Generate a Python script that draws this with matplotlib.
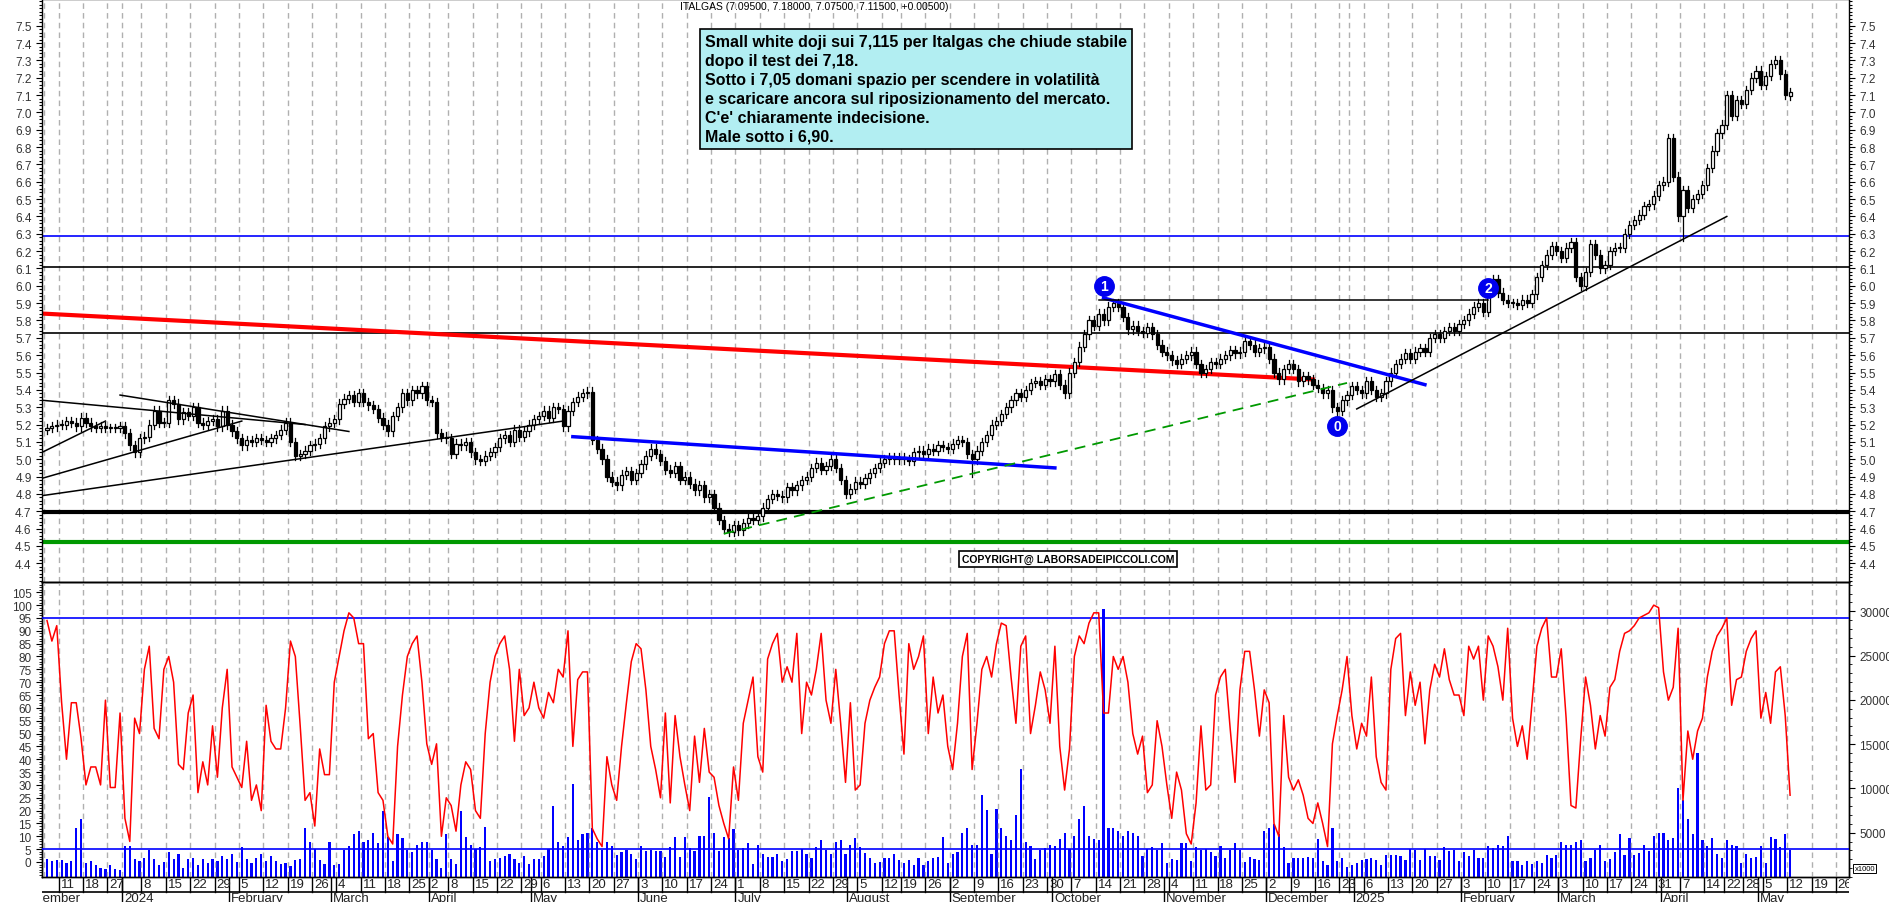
import numpy as np
import pandas as pd
import matplotlib
matplotlib.use("Agg")
import matplotlib.pyplot as plt
from matplotlib.patches import Rectangle

# ---------------- DATA ----------------
start_date = "2023-12-06"
end_date = "2025-05-30"
last_data_date = "2025-05-12"
holidays = ["2023-12-25", "2023-12-26", "2024-01-01", "2024-03-29", "2024-04-01",
            "2024-05-01", "2024-08-15", "2024-12-24", "2024-12-25", "2024-12-26",
            "2024-12-31", "2025-01-01", "2025-04-18", "2025-04-21", "2025-05-01"]

closes = [
    5.18, 5.19, 5.20,
    5.20, 5.22, 5.21, 5.19, 5.24,
    5.21, 5.19, 5.18, 5.19, 5.18,
    5.18, 5.18, 5.19,
    5.15, 5.08, 5.04, 5.12,
    5.13, 5.20, 5.28, 5.21, 5.21,
    5.34, 5.32, 5.23, 5.27, 5.25,
    5.30, 5.21, 5.20, 5.22, 5.23,
    5.19, 5.28, 5.20, 5.16, 5.12,
    5.08, 5.11, 5.10, 5.12, 5.11,
    5.10, 5.12, 5.14, 5.17, 5.21,
    5.10, 5.02, 5.03, 5.05, 5.08,
    5.09, 5.12, 5.19, 5.21, 5.23,
    5.32, 5.35, 5.37, 5.33, 5.38,
    5.33, 5.31, 5.29, 5.24, 5.20,
    5.16, 5.25, 5.30, 5.38, 5.34,
    5.40, 5.38, 5.42, 5.34,
    5.33, 5.15, 5.13, 5.12,
    5.03, 5.09, 5.08, 5.10, 5.04,
    5.00, 4.99, 5.02, 5.04, 5.07,
    5.12, 5.14, 5.10, 5.17, 5.13,
    5.16, 5.20, 5.23, 5.25,
    5.28, 5.24, 5.30, 5.29, 5.19,
    5.28, 5.33, 5.36, 5.38, 5.39,
    5.11, 5.06, 5.00, 4.90, 4.87,
    4.85, 4.91, 4.93, 4.88, 4.92,
    4.97, 5.02, 5.06, 5.03, 4.99,
    4.94, 4.92, 4.96, 4.88, 4.90,
    4.86, 4.82, 4.85, 4.78, 4.80,
    4.72, 4.65, 4.60, 4.58, 4.62,
    4.59, 4.63, 4.66, 4.65, 4.67,
    4.72, 4.77, 4.80, 4.79, 4.78,
    4.84, 4.82, 4.85, 4.88, 4.90,
    4.95, 4.98, 4.94, 4.96, 5.00,
    4.95, 4.88, 4.80, 4.83, 4.87,
    4.86, 4.89, 4.92, 4.95, 4.98,
    5.00, 5.01, 5.00, 5.01,
    5.00, 4.99, 5.04, 5.05, 5.03,
    5.06, 5.05, 5.08, 5.07, 5.06,
    5.09, 5.11, 5.10, 5.03, 5.00,
    5.05, 5.10, 5.14, 5.20, 5.22,
    5.26, 5.30, 5.34, 5.38, 5.36,
    5.40, 5.44, 5.45, 5.43, 5.46,
    5.45, 5.49, 5.43, 5.38, 5.50,
    5.56, 5.65, 5.72, 5.80, 5.77,
    5.84, 5.80, 5.88, 5.90, 5.88,
    5.82, 5.75, 5.77, 5.74, 5.73,
    5.76, 5.72, 5.66, 5.62, 5.60,
    5.57, 5.55, 5.58, 5.60, 5.62,
    5.55, 5.50, 5.52, 5.56, 5.55,
    5.58, 5.60, 5.63, 5.61, 5.62,
    5.68, 5.66, 5.62, 5.64, 5.65,
    5.58, 5.50, 5.46, 5.52, 5.55,
    5.52, 5.45, 5.48, 5.46, 5.43,
    5.41, 5.38, 5.40, 5.30, 5.28,
    5.34, 5.37,
    5.42, 5.40, 5.38,
    5.45, 5.40, 5.36, 5.38, 5.45,
    5.50, 5.55, 5.58, 5.61, 5.58,
    5.62, 5.64, 5.62, 5.70, 5.72,
    5.70, 5.74, 5.76, 5.74, 5.78,
    5.80, 5.84, 5.88, 5.90, 5.85,
    6.00, 6.04, 5.96, 5.92, 5.90,
    5.90, 5.89, 5.92, 5.90, 5.95,
    6.05, 6.12, 6.18, 6.23, 6.20,
    6.16, 6.22, 6.25, 6.05, 6.00,
    6.08, 6.24, 6.18, 6.10, 6.12,
    6.20, 6.22, 6.22, 6.30, 6.35,
    6.38, 6.41, 6.46, 6.47, 6.52,
    6.58, 6.60, 6.85, 6.63, 6.40,
    6.55, 6.45, 6.50, 6.53, 6.58,
    6.68, 6.78, 6.88, 6.93,
    7.10, 6.98, 7.07, 7.05,
    7.13, 7.20, 7.24, 7.16,
    7.21, 7.28, 7.30, 7.22, 7.10,
    7.115,
]
first_open = 5.17
last_open = 7.095
low_overrides = {"2025-04-07": 6.26, "2024-09-06": 4.90, "2024-12-20": 5.24}

oscillator = [
    94, 86, 92,
    62, 40, 62, 62, 48,
    30, 37, 37, 30, 63,
    29, 29, 58,
    17, 8, 56, 50,
    75, 84, 52, 48, 75,
    80, 70, 38, 36, 58,
    65, 27, 39, 30, 53,
    33, 60, 75, 37, 33,
    29, 47, 24, 30, 20,
    61, 47, 44, 44, 60,
    86, 80, 53, 24, 27,
    14, 44, 34, 34, 70,
    80, 90, 97, 95, 85,
    85, 48, 50, 27, 24,
    10, 7, 45, 65, 80,
    85, 88, 70, 46,
    38, 46, 10, 25,
    22, 12, 30, 39, 36,
    20, 17, 50, 70, 80,
    85, 88, 75, 47, 75,
    57, 60, 70, 60,
    56, 66, 62, 75, 72,
    90, 45, 71, 74, 74,
    13, 9, 6, 41, 30,
    24, 45, 62, 78, 85,
    83, 67, 45, 36, 25,
    58, 23, 57, 41, 30,
    20, 49, 31, 52, 35,
    33, 22, 15, 9, 37,
    24, 54, 63, 72, 41,
    35, 79, 85, 89, 70,
    76, 70, 89, 50, 70,
    65, 75, 89, 63, 54,
    75, 54, 31, 62, 28,
    30, 54, 63, 68, 72,
    85, 90, 90, 65,
    42, 85, 75, 80, 88,
    50, 72, 58, 65, 45,
    36, 54, 80, 89, 36,
    54, 75, 80, 72, 85,
    93, 92, 72, 54, 84,
    88, 50, 61, 74, 67,
    54, 84, 45, 28, 44,
    80, 88, 85, 93, 97,
    97, 58, 58, 80, 75,
    80, 70, 50, 42, 49,
    27, 30, 55, 45, 30,
    17, 35, 28, 11, 7,
    23, 53, 28, 30, 65,
    72, 75, 52, 31, 67,
    82, 82, 67, 49, 67,
    62, 15, 10, 57, 33,
    28, 32, 26, 17, 15,
    23, 15, 6, 46, 57,
    67, 80,
    57, 44, 54,
    49, 72, 41, 31, 28,
    75, 87, 89, 57, 74,
    61, 70, 46, 67, 77,
    72, 83, 71, 65, 65,
    57, 84, 79, 84, 63,
    88, 84, 76, 63, 91,
    56, 45, 53, 40, 62,
    84, 91, 95, 72, 72,
    83, 56, 22, 21, 48,
    72, 61, 44, 57, 49,
    68, 71, 82, 89, 90,
    92, 95, 96, 97, 100,
    99, 74, 63, 68, 91,
    24, 51, 40, 51, 56,
    72, 82, 88, 91,
    95, 61, 71, 72,
    82, 87, 90, 56,
    66, 54, 74, 76, 57,
    26,
]

volume_k = [
    2.0, 1.8, 1.9,
    1.9, 1.6, 1.8, 5.5, 6.5,
    1.6, 1.8, 1.4, 1.0, 0.9,
    1.3, 0.9, 0.8,
    3.5, 3.5, 2.0, 1.8,
    2.1, 3.0, 2.0, 1.3, 1.7,
    2.8, 2.0, 2.6, 1.0, 2.0,
    2.1, 1.4, 2.0, 1.6, 2.0,
    1.8, 2.4, 2.0, 2.6, 1.7,
    3.4, 2.0, 1.6, 2.2, 2.6,
    1.8, 2.4, 1.8, 1.5, 1.6,
    1.2, 1.9, 2.0, 5.5, 4.0,
    3.2, 1.9, 1.5, 3.9, 1.3,
    1.5, 3.0, 3.5, 4.8, 5.2,
    4.0, 4.2, 5.0, 3.8, 7.5,
    4.5, 1.8, 4.8, 4.4, 3.0,
    2.8, 3.6, 4.0, 4.0,
    3.0, 2.0, 1.0, 4.8,
    2.0, 1.5, 7.5, 4.5, 3.6,
    3.2, 3.4, 5.6, 1.8, 2.0,
    2.2, 2.4, 2.6, 2.0, 1.6,
    2.4, 1.5, 2.0, 2.0,
    2.4, 3.2, 8.0, 4.0, 3.5,
    4.5, 10.5, 4.2, 4.8, 5.0,
    5.5, 4.0, 3.0, 4.0, 3.5,
    2.5, 2.8, 3.0, 2.6, 2.0,
    3.5, 2.9, 3.1, 2.9, 2.9,
    2.3, 3.4, 4.5, 2.3, 4.5,
    3.3, 2.9, 4.6, 4.6, 9.0,
    5.0, 2.9, 4.5, 4.4, 5.4,
    3.0, 3.3, 3.8, 1.5, 3.6,
    2.6, 2.3, 2.3, 2.6, 1.8,
    2.0, 2.9, 2.9, 3.2, 2.6,
    2.2, 3.4, 4.2, 3.0, 2.6,
    4.0, 4.2, 2.6, 3.6, 4.4,
    3.4, 2.7, 2.1, 1.6, 1.7,
    2.2, 2.1, 2.6, 1.9,
    1.6, 1.9, 1.3, 2.2, 1.3,
    1.8, 2.2, 2.3, 4.5, 1.6,
    2.6, 2.8, 5.0, 5.5, 3.6,
    3.6, 9.3, 7.6, 2.6, 7.7,
    5.5, 4.6, 4.2, 7.0, 12.2,
    4.0, 3.5, 2.0, 3.1, 3.3,
    3.6, 3.5, 4.3, 5.0, 3.2,
    4.6, 6.6, 8.0, 4.6, 4.3,
    4.2, 30.3, 5.5, 5.5, 5.2,
    4.6, 5.2, 5.0, 4.6, 2.4,
    3.2, 3.4, 3.0, 3.8, 1.6,
    2.0, 1.9, 3.8, 3.8, 1.8,
    3.4, 3.0, 3.2, 2.8, 2.4,
    3.5, 2.2, 3.1, 3.8, 3.0,
    1.7, 2.3, 2.0, 1.9, 5.2,
    5.5, 6.0, 4.8, 3.4, 1.6,
    2.2, 2.1, 2.1, 2.3, 2.2,
    4.3, 1.8, 1.4, 5.5, 1.8,
    2.2, 1.1,
    1.3, 1.6, 1.9,
    2.0, 2.1, 1.9, 1.4, 2.5,
    2.5, 2.5, 2.4, 1.9, 3.2,
    3.0, 1.9, 3.2, 2.4, 2.4,
    1.9, 3.4, 2.9, 3.0, 1.8,
    2.8, 2.4, 3.1, 2.1, 2.2,
    3.5, 3.3, 3.6, 3.5, 4.6,
    1.8, 1.8, 1.4, 1.8, 1.5,
    1.8, 1.6, 2.5, 2.2, 2.5,
    4.0, 3.6, 3.6, 4.0, 4.2,
    1.8, 2.2, 3.0, 3.6, 1.8,
    2.0, 2.8, 4.8, 2.5, 4.4,
    2.5, 2.7, 3.6, 2.9, 4.6,
    5.0, 5.0, 4.2, 4.4, 10.0,
    8.7, 6.5, 4.8, 14.0, 4.2,
    3.5, 4.4, 2.6, 2.2,
    4.2, 3.6, 3.5, 1.6,
    2.6, 2.1, 2.3, 3.5,
    1.6, 4.5, 4.3, 3.4, 4.9,
    3.1,
]

# levels and drawn lines: (date, price) endpoints
h_levels = [(6.29, "#0000ff", 1.2), (6.11, "black", 1.2), (5.73, "black", 1.2),
            (4.695, "black", 3.0), (4.52, "#009900", 3.0)]
red_line = [("2023-12-05", 5.84), ("2024-12-13", 5.46)]
blue_lines = [[("2024-05-14", 5.13), ("2024-10-01", 4.95)],
              [("2024-10-15", 5.93), ("2025-01-22", 5.43)]]
green_dashed = [("2024-06-26", 4.57), ("2024-12-27", 5.44)]
black_lines = [[("2023-12-05", 5.34), ("2024-02-22", 5.20)],
               [("2023-12-29", 5.37), ("2024-03-06", 5.16)],
               [("2023-12-05", 5.04), ("2023-12-22", 5.22)],
               [("2023-12-05", 4.89), ("2024-02-05", 5.22)],
               [("2023-12-05", 4.79), ("2024-05-10", 5.22)],
               [("2024-10-14", 5.92), ("2025-02-10", 5.92)],
               [("2025-01-02", 5.29), ("2025-04-22", 6.40)]]
wave_labels = [("1", "2024-10-15", 6.00), ("2", "2025-02-10", 5.99), ("0", "2024-12-20", 5.19)]

title_text = "ITALGAS (7.09500, 7.18000, 7.07500, 7.11500, +0.00500)"
comment_lines = ["Small white doji sui 7,115 per Italgas che chiude stabile",
                 "dopo il test dei 7,18.",
                 "Sotto i 7,05 domani spazio per scendere in volatilità",
                 "e scaricare ancora sul riposizionamento del mercato.",
                 "C'e' chiaramente indecisione.",
                 "Male sotto i 6,90."]
copyright_text = "COPYRIGHT@ LABORSADEIPICCOLI.COM"
month_names = ["January", "February", "March", "April", "May", "June", "July", "August",
               "September", "October", "November", "December"]

# ---------------- BUILD ----------------
all_days = pd.bdate_range(start_date, end_date)
all_days = all_days[~all_days.isin(pd.to_datetime(holidays))]
data_days = all_days[all_days <= pd.Timestamp(last_data_date)]
n = min(len(data_days), len(closes), len(oscillator), len(volume_k))
data_days = data_days[:n]
c = np.array(closes[:n], float)
o = np.r_[first_open, c[:-1]]
o[-1] = last_open
hi = np.maximum(o, c) + 0.025
lo = np.minimum(o, c) - 0.025
idx_of = {d.strftime("%Y-%m-%d"): i for i, d in enumerate(all_days)}
for d, v in low_overrides.items():
    if d in idx_of and idx_of[d] < n:
        lo[idx_of[d]] = v


def xi(d):
    if d in idx_of:
        return idx_of[d]
    return all_days.searchsorted(pd.Timestamp(d)) - 0.5


W, H = 1890, 903
fig = plt.figure(figsize=(W / 100, H / 100), dpi=100)
fig.patch.set_facecolor("white")
plt.rcParams["font.family"] = "Liberation Sans"
L, R = 42 / W, 1849 / W
ax = fig.add_axes([L, 1 - 583 / H, R - L, 583 / H])
axl = fig.add_axes([L, 1 - 878 / H, R - L, 295 / H], sharex=ax)
axv = axl.twinx()
axd = fig.add_axes([L, 0, R - L, 25 / H], sharex=ax)

xmin, xmax = -1.03, 370.1
ax.set_xlim(xmin, xmax)

ser = pd.Series(all_days)
weeks = ser.groupby(ser.dt.to_period("W")).first()
week_idx = [idx_of[d.strftime("%Y-%m-%d")] for d in weeks]
week_has_newyear = ser.groupby(ser.dt.to_period("W")).apply(
    lambda s: bool(((s.dt.month == 1) & (s.dt.day <= 7)).any() and (s.dt.month == 12).any() or
                   ((s.dt.month == 1) & (s.dt.day <= 5)).all())).values
month_first = ser.groupby(ser.dt.to_period("M")).first()
g = 0.6
for a in (ax, axl):
    for wi in week_idx:
        a.axvline(wi - g, color="#b0b0b0", ls=(0, (4, 3)), lw=1.0, zorder=0)

for y, col, lw in h_levels:
    ax.axhline(y, color=col, lw=lw, zorder=1)

bw = 0.65
for i in range(n):
    ax.plot([i, i], [lo[i], hi[i]], color="black", lw=0.9, zorder=3)
    bot, top = min(o[i], c[i]), max(o[i], c[i])
    hgt = max(top - bot, 0.004)
    ax.add_patch(Rectangle((i - bw / 2, bot), bw, hgt, facecolor="white" if c[i] >= o[i] else "black",
                           edgecolor="black", lw=0.9, zorder=4))

(d0, p0), (d1, p1) = red_line
ax.plot([-1.0, xi(d1)], [p0, p1], color="#ff0000", lw=3, zorder=2)
for seg in blue_lines:
    ax.plot([xi(seg[0][0]), xi(seg[1][0])], [seg[0][1], seg[1][1]], color="#0000ff", lw=2.5, zorder=5)
ax.plot([xi(green_dashed[0][0]), xi(green_dashed[1][0])], [green_dashed[0][1], green_dashed[1][1]],
        color="#009900", lw=1.3, ls=(0, (6, 4)), zorder=5)
for seg in black_lines:
    x0 = -1.0 if seg[0][0] == "2023-12-05" else xi(seg[0][0])
    ax.plot([x0, xi(seg[1][0])], [seg[0][1], seg[1][1]], color="black", lw=1.1, zorder=5)
for lab, d, p in wave_labels:
    ax.plot(xi(d), p, "o", ms=14, color="#0000ee", zorder=6)
    ax.text(xi(d), p, lab, color="white", ha="center", va="center", fontsize=10, fontweight="bold", zorder=7)

ax.set_ylim(4.292, 7.654)
yt = np.round(np.arange(4.4, 7.51, 0.1), 1)
ax.set_yticks(yt)
ax.set_yticklabels([f"{v:.1f}" for v in yt])
ax.set_yticks(np.arange(4.3, 7.66, 0.02), minor=True)
ax.tick_params(axis="y", which="both", left=True, right=True, labelleft=True, labelright=True,
               labelsize=8.5, labelcolor="#333333", direction="out", length=4, width=0.8)
ax.tick_params(axis="y", which="minor", length=2)
ax.tick_params(axis="x", bottom=False, labelbottom=False)

ax.text(0.367, 0.94, "\n".join(comment_lines), transform=ax.transAxes, ha="left", va="top",
        fontsize=11.5, fontweight="bold", linespacing=1.33,
        bbox=dict(boxstyle="square,pad=0.3", facecolor="#b2eef2", edgecolor="black", lw=1.2), zorder=10)
fig.text(814 / W, 1 - 7 / H, title_text, ha="center", va="center", fontsize=7.5)
ax.text((962 - 42) / (1849 - 42), 1 - 560 / 583, copyright_text, transform=ax.transAxes, ha="left",
        va="center", fontsize=7.5, fontweight="bold",
        bbox=dict(boxstyle="square,pad=0.25", facecolor="white", edgecolor="black", lw=1.2), zorder=10)

xs = np.arange(n)
axv.bar(xs, np.array(volume_k[:n]) * 1000, width=0.45, color="#0000ff", zorder=2)
axl.plot(xs, oscillator[:n], color="#ff0000", lw=1.1, zorder=4)
axl.axhline(95, color="#0000ff", lw=1.2, zorder=3)
axl.axhline(5, color="#0000ff", lw=1.2, zorder=3)
axl.set_zorder(axv.get_zorder() + 1)
axl.patch.set_visible(False)
axl.set_ylim(-5.84, 109.0)
axl.set_yticks(np.arange(0, 106, 5))
axl.set_yticks(np.arange(-5, 109, 1), minor=True)
axl.tick_params(axis="y", which="both", labelsize=8.5, labelcolor="#333333", length=4)
axl.tick_params(axis="y", which="minor", length=2)
axl.tick_params(axis="x", bottom=False, labelbottom=False)
axv.set_ylim(0, 33300)
axv.set_yticks(np.arange(5000, 30001, 5000))
axv.set_yticks(np.arange(0, 33001, 1000), minor=True)
axv.tick_params(axis="y", which="both", labelsize=8.5, labelcolor="#333333", length=4)
axv.tick_params(axis="y", which="minor", length=2)
axv.text(1.003, 0.03, "x1000", transform=axv.transAxes, fontsize=5.5, ha="left", va="center",
         bbox=dict(boxstyle="square,pad=0.15", facecolor="white", edgecolor="black", lw=0.7))

# date strip
axd.set_ylim(0, 25)
axd.axis("off")
axd.axhline(10, color="black", lw=1.2)
axd.axhline(24.6, color="black", lw=1.2)
for k, (wi, d) in enumerate(zip(week_idx, weeks)):
    x = wi - g
    if k == 0:
        continue
    axd.plot([x, x], [10, 25], color="black", lw=1.0)
    if week_has_newyear[k]:
        continue
    axd.text(x + 0.4, 17.5, str(d.day), fontsize=9.5, va="center", ha="left", color="#222222", clip_on=True)
axd.text(xmin - 4.5, 4, "December", fontsize=9.5, va="center", ha="left", color="#222222", clip_on=True)
for d in month_first.iloc[1:]:
    x = idx_of[d.strftime("%Y-%m-%d")] - g
    name = str(d.year) if d.month == 1 else month_names[d.month - 1]
    if x < xmax - 2:
        axd.plot([x, x], [0, 25], color="black", lw=1.0)
        axd.text(x + 0.4, 4, name, fontsize=9.5, va="center", ha="left", color="#222222", clip_on=True)

for a in (ax, axl, axv):
    for s in a.spines.values():
        s.set_linewidth(1.0)

fig.savefig("out.png", dpi=100)
